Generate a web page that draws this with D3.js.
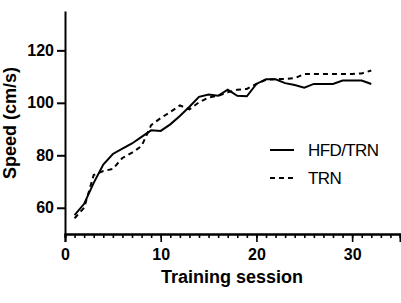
<!DOCTYPE html>
<html>
<head>
<meta charset="utf-8">
<script src="https://d3js.org/d3.v7.min.js"></script>
<style>
    body { margin: 0; background: #fff; }
    svg { display: block; font-family: "Liberation Sans", Arial, sans-serif; }
</style>
</head>
<body>
<div id="chart"></div>
<script>
// training sessions 1..32
const sessions = d3.range(1, 33);
const hfdTrn = [57.2, 61.5, 69.5, 76.5, 80.5, 82.5, 84.5, 87, 89.5, 89.3, 91.8, 95,
    98.5, 102.3, 103.2, 102.7, 105, 102.7, 102.5, 107.2, 109, 109, 107.5, 106.8,
    105.8, 107.2, 107.2, 107.2, 108.5, 108.5, 108.5, 107.2];
const trn = [56, 60, 72.5, 74, 74.8, 79, 81, 83.5, 91.5, 94.2, 96.5, 99,
    97.5, 100.2, 102, 102.7, 104, 105, 105.3, 107.2, 108.8, 109, 109.1, 109.4,
    111, 111, 111, 111, 111, 111, 111.2, 112.3];
const seriesNames = ['HFD/TRN', 'TRN'];
const xTicks = [0, 10, 20, 30];
const yTicks = [60, 80, 100, 120];

const width = 401, height = 303;
const margin = {top: 11, right: 1, bottom: 69, left: 65};

const svg = d3.select('#chart').append('svg')
    .attr('width', width)
    .attr('height', height);

const x = d3.scaleLinear().domain([0, 35]).range([margin.left, width - margin.right]);
const y = d3.scaleLinear().domain([50, 135]).range([height - margin.bottom, margin.top]);

// x axis: minor ticks every session, major every 10
const xAxis = svg.append('g')
    .attr('transform', `translate(0,${height - margin.bottom})`);
xAxis.call(d3.axisBottom(x).tickValues(d3.range(0, 36)).tickSize(4).tickFormat(''));
xAxis.append('g').call(d3.axisBottom(x).tickValues(xTicks).tickSize(8).tickFormat(d3.format('d')));
xAxis.selectAll('.domain').attr('stroke-width', 2);
xAxis.selectAll('line').attr('stroke-width', 1.6);
xAxis.selectAll('text')
    .attr('font-size', 16).attr('font-weight', 'bold').attr('fill', '#000')
    .attr('dy', '0.95em');

const yAxis = svg.append('g')
    .attr('transform', `translate(${margin.left},0)`)
    .call(d3.axisLeft(y).tickValues(yTicks).tickSize(8).tickSizeOuter(0));
yAxis.select('.domain').attr('stroke-width', 2);
yAxis.selectAll('line').attr('stroke-width', 2);
yAxis.selectAll('text')
    .attr('font-size', 16).attr('font-weight', 'bold').attr('fill', '#000')
    .attr('x', -11);

// axis titles
svg.append('text')
    .attr('x', 232)
    .attr('y', 283)
    .attr('text-anchor', 'middle')
    .attr('font-size', 18).attr('font-weight', 'bold')
    .text('Training session');

svg.append('text')
    .attr('transform', 'translate(16,123) rotate(-90)')
    .attr('text-anchor', 'middle')
    .attr('font-size', 18).attr('font-weight', 'bold')
    .text('Speed (cm/s)');

// lines
const line = d3.line()
    .x((d, i) => x(sessions[i]))
    .y(d => y(d));

svg.append('path')
    .datum(trn)
    .attr('fill', 'none')
    .attr('stroke', '#000')
    .attr('stroke-width', 2)
    .attr('stroke-dasharray', '5,4')
    .attr('d', line);

svg.append('path')
    .datum(hfdTrn)
    .attr('fill', 'none')
    .attr('stroke', '#000')
    .attr('stroke-width', 2)
    .attr('d', line);

// legend
const legend = svg.append('g');
seriesNames.forEach((name, i) => {
    const ly = 150 + i * 28;
    legend.append('line')
        .attr('x1', 270).attr('x2', 294)
        .attr('y1', ly).attr('y2', ly)
        .attr('stroke', '#000')
        .attr('stroke-width', 2)
        .attr('stroke-dasharray', i === 1 ? '5,4' : null);
    legend.append('text')
        .attr('x', 308)
        .attr('y', ly)
        .attr('dy', '0.36em')
        .attr('font-size', 17)
        .attr('letter-spacing', -0.6)
        .text(name);
});
</script>
</body>
</html>
